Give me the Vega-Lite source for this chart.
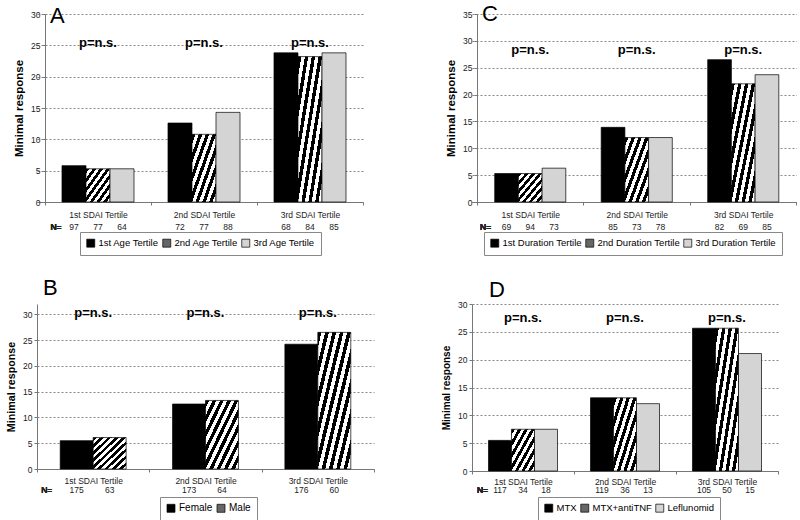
{
  "$schema": "https://vega.github.io/schema/vega-lite/v6.json",
  "padding": {"left": 5, "top": 3, "right": 0, "bottom": 0},
  "background": "white",
  "config": {
    "font": "Liberation Sans",
    "view": {"stroke": null},
    "axis": {"labelColor": "#222", "domainColor": "#777", "tickColor": "#777", "labelFontWeight": "normal"},
    "legend": {"orient": "none", "direction": "horizontal", "strokeColor": "#888", "padding": 6, "symbolType": "square", "symbolSize": 64, "symbolStrokeColor": "black", "symbolStrokeWidth": 0.7, "labelFontSize": 9.5, "labelColor": "black", "labelOffset": 3, "columnPadding": 2},
    "title": {"fontWeight": "normal", "fontSize": 22, "anchor": "start", "frame": "group", "color": "black"}
  },
  "datasets": {
    "a": [
      {"cat": "1st SDAI Tertile", "series": "1st Age Tertile", "value": 5.8, "n": "97"},
      {"cat": "1st SDAI Tertile", "series": "2nd Age Tertile", "value": 5.3, "n": "77"},
      {"cat": "1st SDAI Tertile", "series": "3rd Age Tertile", "value": 5.3, "n": "64"},
      {"cat": "2nd SDAI Tertile", "series": "1st Age Tertile", "value": 12.6, "n": "72"},
      {"cat": "2nd SDAI Tertile", "series": "2nd Age Tertile", "value": 10.8, "n": "77"},
      {"cat": "2nd SDAI Tertile", "series": "3rd Age Tertile", "value": 14.3, "n": "88"},
      {"cat": "3rd SDAI Tertile", "series": "1st Age Tertile", "value": 23.8, "n": "68"},
      {"cat": "3rd SDAI Tertile", "series": "2nd Age Tertile", "value": 23.2, "n": "84"},
      {"cat": "3rd SDAI Tertile", "series": "3rd Age Tertile", "value": 23.8, "n": "85"}
    ],
    "c": [
      {"cat": "1st SDAI Tertile", "series": "1st Duration Tertile", "value": 5.3, "n": "69"},
      {"cat": "1st SDAI Tertile", "series": "2nd Duration Tertile", "value": 5.3, "n": "94"},
      {"cat": "1st SDAI Tertile", "series": "3rd Duration Tertile", "value": 6.3, "n": "73"},
      {"cat": "2nd SDAI Tertile", "series": "1st Duration Tertile", "value": 13.9, "n": "85"},
      {"cat": "2nd SDAI Tertile", "series": "2nd Duration Tertile", "value": 12.0, "n": "73"},
      {"cat": "2nd SDAI Tertile", "series": "3rd Duration Tertile", "value": 12.0, "n": "78"},
      {"cat": "3rd SDAI Tertile", "series": "1st Duration Tertile", "value": 26.5, "n": "82"},
      {"cat": "3rd SDAI Tertile", "series": "2nd Duration Tertile", "value": 22.0, "n": "69"},
      {"cat": "3rd SDAI Tertile", "series": "3rd Duration Tertile", "value": 23.7, "n": "85"}
    ],
    "b": [
      {"cat": "1st SDAI Tertile", "series": "Female", "value": 5.5, "n": "175"},
      {"cat": "1st SDAI Tertile", "series": "Male", "value": 6.1, "n": "63"},
      {"cat": "2nd SDAI Tertile", "series": "Female", "value": 12.6, "n": "173"},
      {"cat": "2nd SDAI Tertile", "series": "Male", "value": 13.3, "n": "64"},
      {"cat": "3rd SDAI Tertile", "series": "Female", "value": 24.2, "n": "176"},
      {"cat": "3rd SDAI Tertile", "series": "Male", "value": 26.5, "n": "60"}
    ],
    "d": [
      {"cat": "1st SDAI Tertile", "series": "MTX", "value": 5.5, "n": "117"},
      {"cat": "1st SDAI Tertile", "series": "MTX+antiTNF", "value": 7.5, "n": "34"},
      {"cat": "1st SDAI Tertile", "series": "Leflunomid", "value": 7.5, "n": "18"},
      {"cat": "2nd SDAI Tertile", "series": "MTX", "value": 13.15, "n": "119"},
      {"cat": "2nd SDAI Tertile", "series": "MTX+antiTNF", "value": 13.15, "n": "36"},
      {"cat": "2nd SDAI Tertile", "series": "Leflunomid", "value": 12.1, "n": "13"},
      {"cat": "3rd SDAI Tertile", "series": "MTX", "value": 25.65, "n": "105"},
      {"cat": "3rd SDAI Tertile", "series": "MTX+antiTNF", "value": 25.65, "n": "50"},
      {"cat": "3rd SDAI Tertile", "series": "Leflunomid", "value": 21.1, "n": "15"}
    ],
    "p": [
      {"cat": "1st SDAI Tertile", "label": "p=n.s."},
      {"cat": "2nd SDAI Tertile", "label": "p=n.s."},
      {"cat": "3rd SDAI Tertile", "label": "p=n.s."}
    ]
  },
  "columns": 2,
  "bounds": "flush",
  "align": "each",
  "spacing": {"row": 102, "column": 98},
  "resolve": {"scale": {"fill": "independent", "x": "independent", "y": "independent", "xOffset": "independent"}, "legend": {"fill": "independent"}},
  "concat": [
    {
      "width": 326, "height": 188,
      "title": {"text": "A", "offset": -18, "dx": 13},
      "layer": [
        {
          "data": {"name": "a"},
          "mark": {"type": "bar", "stroke": "black", "strokeWidth": 0.7},
          "encoding": {
            "x": {"field": "cat", "type": "nominal", "sort": null,
                  "scale": {"paddingInner": 0, "paddingOuter": 0.0377, "align": 1},
                  "axis": {"title": null, "labelAngle": 0, "labelFontSize": 8.5, "labelPadding": 5, "tickBand": "extent", "tickSize": 3}},
            "xOffset": {"field": "series", "type": "nominal", "sort": null, "scale": {"paddingInner": 0, "paddingOuter": 0.708}},
            "y": {"field": "value", "type": "quantitative", "scale": {"domain": [0, 30], "nice": false},
                  "axis": {"values": [0, 5, 10, 15, 20, 25, 30], "tickCount": 20, "offset": -8, "grid": true, "gridDash": [2, 2], "gridColor": "#888", "tickSize": 3, "labelFontSize": 8.5, "labelPadding": 2, "title": "Minimal response", "titleFontSize": 11.5, "titleFontWeight": "bold", "titlePadding": 6, "titleColor": "black"}},
            "fill": {"field": "series", "type": "nominal", "sort": null,
                     "scale": {"domain": ["1st Age Tertile", "2nd Age Tertile", "3rd Age Tertile"], "range": ["black", "#666666", "#d4d4d4"]},
                     "legend": {"title": null, "legendX": 43, "legendY": 218},
                     "condition": {"test": "datum.series === '2nd Age Tertile'", "value": {"gradient": "linear", "x1": 0, "y1": 0, "x2": 1, "y2": 1, "stops": [
                       {"offset": 0, "color": "black"}, {"offset": 0.0714, "color": "black"}, {"offset": 0.0714, "color": "white"}, {"offset": 0.1429, "color": "white"},
                       {"offset": 0.1429, "color": "black"}, {"offset": 0.2143, "color": "black"}, {"offset": 0.2143, "color": "white"}, {"offset": 0.2857, "color": "white"},
                       {"offset": 0.2857, "color": "black"}, {"offset": 0.3571, "color": "black"}, {"offset": 0.3571, "color": "white"}, {"offset": 0.4286, "color": "white"},
                       {"offset": 0.4286, "color": "black"}, {"offset": 0.5, "color": "black"}, {"offset": 0.5, "color": "white"}, {"offset": 0.5714, "color": "white"},
                       {"offset": 0.5714, "color": "black"}, {"offset": 0.6429, "color": "black"}, {"offset": 0.6429, "color": "white"}, {"offset": 0.7143, "color": "white"},
                       {"offset": 0.7143, "color": "black"}, {"offset": 0.7857, "color": "black"}, {"offset": 0.7857, "color": "white"}, {"offset": 0.8571, "color": "white"},
                       {"offset": 0.8571, "color": "black"}, {"offset": 0.9286, "color": "black"}, {"offset": 0.9286, "color": "white"}, {"offset": 1, "color": "white"}]}}}
          }
        },
        {
          "data": {"name": "a"},
          "mark": {"type": "text", "fontSize": 8.5, "dy": 24.7, "baseline": "middle", "color": "#222"},
          "encoding": {
            "x": {"field": "cat", "type": "nominal", "sort": null},
            "xOffset": {"field": "series", "type": "nominal", "sort": null},
            "y": {"datum": 0},
            "text": {"field": "n"}
          }
        },
        {
          "data": {"name": "a"},
          "mark": {"type": "text", "fontSize": 8.5, "dy": 24.7, "dx": -18, "baseline": "middle", "color": "#222"},
          "encoding": {
            "x": {"datum": "1st SDAI Tertile"},
            "xOffset": {"datum": "1st Age Tertile"},
            "y": {"datum": 0},
            "text": {"value": "N="}
          }
        },
        {
          "data": {"name": "p"},
          "mark": {"type": "text", "fontSize": 13, "fontWeight": "bold", "baseline": "middle", "color": "black"},
          "encoding": {
            "x": {"field": "cat", "type": "nominal", "sort": null},
            "y": {"datum": 25.4},
            "text": {"field": "label"}
          }
        }
      ]
    },
    {
      "width": 325, "height": 188,
      "title": {"text": "C", "offset": -16, "dx": 10},
      "layer": [
        {
          "data": {"name": "c"},
          "mark": {"type": "bar", "stroke": "black", "strokeWidth": 0.7},
          "encoding": {
            "x": {"field": "cat", "type": "nominal", "sort": null,
                  "scale": {"paddingInner": 0, "paddingOuter": 0.0258, "align": 0.909},
                  "axis": {"title": null, "labelAngle": 0, "labelFontSize": 8.5, "labelPadding": 5, "tickBand": "extent", "tickSize": 3}},
            "xOffset": {"field": "series", "type": "nominal", "sort": null, "scale": {"paddingInner": 0, "paddingOuter": 0.747}},
            "y": {"field": "value", "type": "quantitative", "scale": {"domain": [0, 35], "nice": false},
                  "axis": {"values": [0, 5, 10, 15, 20, 25, 30, 35], "tickCount": 20, "offset": -5, "grid": true, "gridDash": [2, 2], "gridColor": "#888", "tickSize": 3, "labelFontSize": 8.5, "labelPadding": 2, "title": "Minimal response", "titleFontSize": 11.5, "titleFontWeight": "bold", "titlePadding": 6, "titleColor": "black"}},
            "fill": {"field": "series", "type": "nominal", "sort": null,
                     "scale": {"domain": ["1st Duration Tertile", "2nd Duration Tertile", "3rd Duration Tertile"], "range": ["black", "#666666", "#d4d4d4"]},
                     "legend": {"title": null, "legendX": 12, "legendY": 218},
                     "condition": {"test": "datum.series === '2nd Duration Tertile'", "value": {"gradient": "linear", "x1": 0, "y1": 0, "x2": 1, "y2": 1, "stops": [
                       {"offset": 0, "color": "black"}, {"offset": 0.0714, "color": "black"}, {"offset": 0.0714, "color": "white"}, {"offset": 0.1429, "color": "white"},
                       {"offset": 0.1429, "color": "black"}, {"offset": 0.2143, "color": "black"}, {"offset": 0.2143, "color": "white"}, {"offset": 0.2857, "color": "white"},
                       {"offset": 0.2857, "color": "black"}, {"offset": 0.3571, "color": "black"}, {"offset": 0.3571, "color": "white"}, {"offset": 0.4286, "color": "white"},
                       {"offset": 0.4286, "color": "black"}, {"offset": 0.5, "color": "black"}, {"offset": 0.5, "color": "white"}, {"offset": 0.5714, "color": "white"},
                       {"offset": 0.5714, "color": "black"}, {"offset": 0.6429, "color": "black"}, {"offset": 0.6429, "color": "white"}, {"offset": 0.7143, "color": "white"},
                       {"offset": 0.7143, "color": "black"}, {"offset": 0.7857, "color": "black"}, {"offset": 0.7857, "color": "white"}, {"offset": 0.8571, "color": "white"},
                       {"offset": 0.8571, "color": "black"}, {"offset": 0.9286, "color": "black"}, {"offset": 0.9286, "color": "white"}, {"offset": 1, "color": "white"}]}}}
          }
        },
        {
          "data": {"name": "c"},
          "mark": {"type": "text", "fontSize": 8.5, "dy": 24.7, "baseline": "middle", "color": "#222"},
          "encoding": {
            "x": {"field": "cat", "type": "nominal", "sort": null},
            "xOffset": {"field": "series", "type": "nominal", "sort": null},
            "y": {"datum": 0},
            "text": {"field": "n"}
          }
        },
        {
          "data": {"name": "c"},
          "mark": {"type": "text", "fontSize": 8.5, "dy": 24.7, "dx": -21, "baseline": "middle", "color": "#222"},
          "encoding": {
            "x": {"datum": "1st SDAI Tertile"},
            "xOffset": {"datum": "1st Duration Tertile"},
            "y": {"datum": 0},
            "text": {"value": "N="}
          }
        },
        {
          "data": {"name": "p"},
          "mark": {"type": "text", "fontSize": 13, "fontWeight": "bold", "baseline": "middle", "color": "black"},
          "encoding": {
            "x": {"field": "cat", "type": "nominal", "sort": null},
            "y": {"datum": 28.3},
            "text": {"field": "label"}
          }
        }
      ]
    },
    {
      "width": 337, "height": 165,
      "title": {"text": "B", "offset": 4, "dx": 6},
      "layer": [
        {
          "data": {"name": "b"},
          "mark": {"type": "bar", "stroke": "black", "strokeWidth": 0.7},
          "encoding": {
            "x": {"field": "cat", "type": "nominal", "sort": null,
                  "scale": {"paddingInner": 0, "paddingOuter": 0},
                  "axis": {"title": null, "labelAngle": 0, "labelFontSize": 8.5, "labelPadding": 4, "tickBand": "extent", "tickSize": 3}},
            "xOffset": {"field": "series", "type": "nominal", "sort": null, "scale": {"paddingInner": 0, "paddingOuter": 0.7045}},
            "y": {"field": "value", "type": "quantitative", "scale": {"domain": [0, 32], "nice": false},
                  "axis": {"values": [0, 5, 10, 15, 20, 25, 30], "tickCount": 20, "grid": true, "gridDash": [2, 2], "gridColor": "#888", "tickSize": 3, "labelFontSize": 8.5, "labelPadding": 2, "title": "Minimal response", "titleFontSize": 10.7, "titleFontWeight": "bold", "titlePadding": 6, "titleColor": "black"}},
            "fill": {"field": "series", "type": "nominal", "sort": null,
                     "scale": {"domain": ["Female", "Male"], "range": ["black", "#666666"]},
                     "legend": {"title": null, "legendX": 123, "legendY": 193, "labelFontSize": 10},
                     "condition": {"test": "datum.series === 'Male'", "value": {"gradient": "linear", "x1": 0, "y1": 0, "x2": 1, "y2": 1, "stops": [
                       {"offset": 0, "color": "black"}, {"offset": 0.0556, "color": "black"}, {"offset": 0.0556, "color": "white"}, {"offset": 0.1111, "color": "white"},
                       {"offset": 0.1111, "color": "black"}, {"offset": 0.1667, "color": "black"}, {"offset": 0.1667, "color": "white"}, {"offset": 0.2222, "color": "white"},
                       {"offset": 0.2222, "color": "black"}, {"offset": 0.2778, "color": "black"}, {"offset": 0.2778, "color": "white"}, {"offset": 0.3333, "color": "white"},
                       {"offset": 0.3333, "color": "black"}, {"offset": 0.3889, "color": "black"}, {"offset": 0.3889, "color": "white"}, {"offset": 0.4444, "color": "white"},
                       {"offset": 0.4444, "color": "black"}, {"offset": 0.5, "color": "black"}, {"offset": 0.5, "color": "white"}, {"offset": 0.5556, "color": "white"},
                       {"offset": 0.5556, "color": "black"}, {"offset": 0.6111, "color": "black"}, {"offset": 0.6111, "color": "white"}, {"offset": 0.6667, "color": "white"},
                       {"offset": 0.6667, "color": "black"}, {"offset": 0.7222, "color": "black"}, {"offset": 0.7222, "color": "white"}, {"offset": 0.7778, "color": "white"},
                       {"offset": 0.7778, "color": "black"}, {"offset": 0.8333, "color": "black"}, {"offset": 0.8333, "color": "white"}, {"offset": 0.8889, "color": "white"},
                       {"offset": 0.8889, "color": "black"}, {"offset": 0.9444, "color": "black"}, {"offset": 0.9444, "color": "white"}, {"offset": 1, "color": "white"}]}}}
          }
        },
        {
          "data": {"name": "b"},
          "mark": {"type": "text", "fontSize": 8.5, "dy": 21, "baseline": "middle", "color": "#222"},
          "encoding": {
            "x": {"field": "cat", "type": "nominal", "sort": null},
            "xOffset": {"field": "series", "type": "nominal", "sort": null},
            "y": {"datum": 0},
            "text": {"field": "n"}
          }
        },
        {
          "data": {"name": "b"},
          "mark": {"type": "text", "fontSize": 8.5, "dy": 21, "dx": -30, "baseline": "middle", "color": "#222"},
          "encoding": {
            "x": {"datum": "1st SDAI Tertile"},
            "xOffset": {"datum": "Female"},
            "y": {"datum": 0},
            "text": {"value": "N="}
          }
        },
        {
          "data": {"name": "p"},
          "mark": {"type": "text", "fontSize": 13, "fontWeight": "bold", "baseline": "middle", "color": "black"},
          "encoding": {
            "x": {"field": "cat", "type": "nominal", "sort": null},
            "y": {"datum": 30.26},
            "text": {"field": "label"}
          }
        }
      ]
    },
    {
      "width": 306, "height": 167,
      "title": {"text": "D", "offset": -2, "dx": 17},
      "layer": [
        {
          "data": {"name": "d"},
          "mark": {"type": "bar", "stroke": "black", "strokeWidth": 0.7},
          "encoding": {
            "x": {"field": "cat", "type": "nominal", "sort": null,
                  "scale": {"paddingInner": 0, "paddingOuter": 0},
                  "axis": {"title": null, "labelAngle": 0, "labelFontSize": 8.5, "labelPadding": 3, "tickBand": "extent", "tickSize": 3}},
            "xOffset": {"field": "series", "type": "nominal", "sort": null, "scale": {"paddingInner": 0, "paddingOuter": 0.717}},
            "y": {"field": "value", "type": "quantitative", "scale": {"domain": [0, 30], "nice": false},
                  "axis": {"values": [0, 5, 10, 15, 20, 25, 30], "tickCount": 20, "grid": true, "gridDash": [2, 2], "gridColor": "#888", "tickSize": 3, "labelFontSize": 8.5, "labelPadding": 2, "title": "Minimal response", "titleFontSize": 10, "titleFontWeight": "bold", "titlePadding": 6, "titleColor": "black"}},
            "fill": {"field": "series", "type": "nominal", "sort": null,
                     "scale": {"domain": ["MTX", "MTX+antiTNF", "Leflunomid"], "range": ["black", "#666666", "#d4d4d4"]},
                     "legend": {"title": null, "legendX": 66, "legendY": 193},
                     "condition": {"test": "datum.series === 'MTX+antiTNF'", "value": {"gradient": "linear", "x1": 0, "y1": 0, "x2": 1, "y2": 1, "stops": [
                       {"offset": 0, "color": "black"}, {"offset": 0.0714, "color": "black"}, {"offset": 0.0714, "color": "white"}, {"offset": 0.1429, "color": "white"},
                       {"offset": 0.1429, "color": "black"}, {"offset": 0.2143, "color": "black"}, {"offset": 0.2143, "color": "white"}, {"offset": 0.2857, "color": "white"},
                       {"offset": 0.2857, "color": "black"}, {"offset": 0.3571, "color": "black"}, {"offset": 0.3571, "color": "white"}, {"offset": 0.4286, "color": "white"},
                       {"offset": 0.4286, "color": "black"}, {"offset": 0.5, "color": "black"}, {"offset": 0.5, "color": "white"}, {"offset": 0.5714, "color": "white"},
                       {"offset": 0.5714, "color": "black"}, {"offset": 0.6429, "color": "black"}, {"offset": 0.6429, "color": "white"}, {"offset": 0.7143, "color": "white"},
                       {"offset": 0.7143, "color": "black"}, {"offset": 0.7857, "color": "black"}, {"offset": 0.7857, "color": "white"}, {"offset": 0.8571, "color": "white"},
                       {"offset": 0.8571, "color": "black"}, {"offset": 0.9286, "color": "black"}, {"offset": 0.9286, "color": "white"}, {"offset": 1, "color": "white"}]}}}
          }
        },
        {
          "data": {"name": "d"},
          "mark": {"type": "text", "fontSize": 8.5, "dy": 19, "baseline": "middle", "color": "#222"},
          "encoding": {
            "x": {"field": "cat", "type": "nominal", "sort": null},
            "xOffset": {"field": "series", "type": "nominal", "sort": null},
            "y": {"datum": 0},
            "text": {"field": "n"}
          }
        },
        {
          "data": {"name": "d"},
          "mark": {"type": "text", "fontSize": 8.5, "dy": 19, "dx": -17.5, "baseline": "middle", "color": "#222"},
          "encoding": {
            "x": {"datum": "1st SDAI Tertile"},
            "xOffset": {"datum": "MTX"},
            "y": {"datum": 0},
            "text": {"value": "N="}
          }
        },
        {
          "data": {"name": "p"},
          "mark": {"type": "text", "fontSize": 13, "fontWeight": "bold", "baseline": "middle", "color": "black"},
          "encoding": {
            "x": {"field": "cat", "type": "nominal", "sort": null},
            "y": {"datum": 27.4},
            "text": {"field": "label"}
          }
        }
      ]
    }
  ]
}
